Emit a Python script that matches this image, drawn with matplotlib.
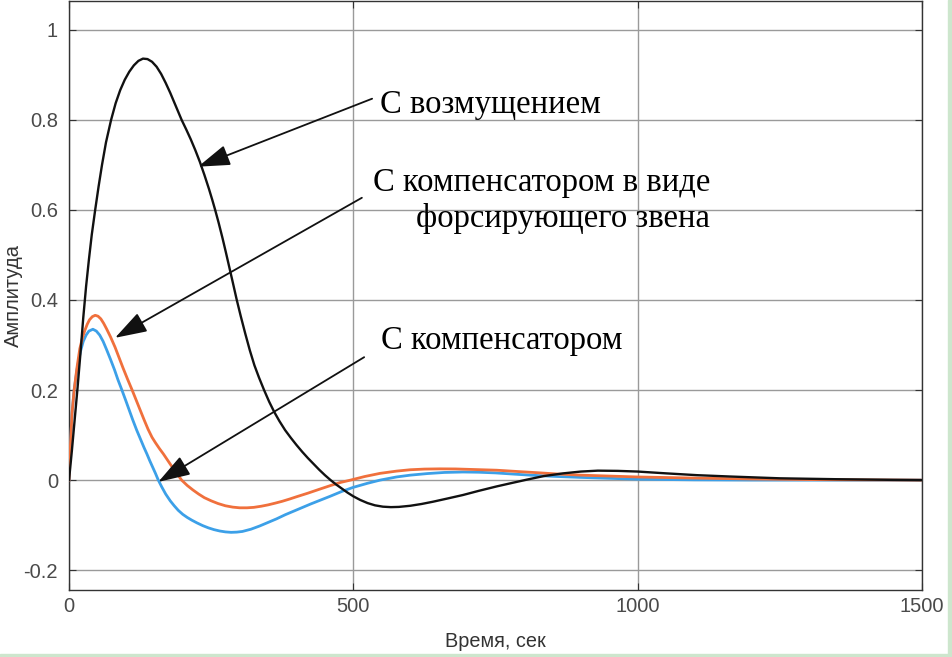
import numpy as np
from matplotlib import pyplot as plt
from matplotlib.patches import Rectangle

# time points (s) and amplitudes
t_dist = [0, 5, 10, 15, 20, 25, 30, 35, 40, 46, 52, 58, 65, 74, 82, 90, 98, 106, 114, 122,
          130, 138, 146, 154, 162, 170, 178, 186, 192, 198, 206, 214, 222, 230, 238, 246,
          252, 257, 263, 270, 276, 282, 288, 295, 302, 310, 318, 326, 334, 343, 352, 361,
          370, 380, 390, 400, 410, 420, 430, 440, 450, 460, 470, 480, 490, 500, 512, 525,
          538, 552, 566, 580, 600, 620, 640, 665, 693, 720, 752, 780, 805, 835, 869, 900,
          930, 965, 1000, 1050, 1104, 1162, 1250, 1350, 1450, 1500]
y_dist = [0, 0.065, 0.135, 0.205, 0.28, 0.36, 0.43, 0.49, 0.545, 0.6, 0.652, 0.70, 0.75,
          0.80, 0.837, 0.866, 0.889, 0.907, 0.921, 0.931, 0.936, 0.935, 0.929, 0.918,
          0.902, 0.882, 0.86, 0.836, 0.818, 0.8, 0.779, 0.757, 0.733, 0.707, 0.678, 0.647,
          0.622, 0.6, 0.572, 0.537, 0.505, 0.472, 0.439, 0.4, 0.364, 0.325, 0.288, 0.255,
          0.228, 0.2, 0.174, 0.151, 0.131, 0.111, 0.094, 0.078, 0.063, 0.049, 0.036, 0.023,
          0.011, 0.0, -0.01, -0.019, -0.028, -0.036, -0.044, -0.051, -0.056, -0.059, -0.06,
          -0.0595, -0.057, -0.053, -0.048, -0.041, -0.033, -0.024, -0.014, -0.006, 0.001,
          0.009, 0.015, 0.019, 0.021, 0.0205, 0.019, 0.015, 0.011, 0.008, 0.004, 0.002,
          0.0005, 0]

t_force = [0, 2.3, 5.3, 9, 14, 19, 24, 28, 32, 36, 41, 46, 51, 56, 61, 66, 73, 81, 88, 95,
           103, 111, 118, 125, 132, 139, 146, 152, 159, 166, 174, 182, 190, 198, 208, 218,
           228, 238, 250, 262, 275, 288, 300, 313, 325, 338, 350, 363, 375, 388, 400, 420,
           441, 460, 478, 495, 520, 547, 576, 600, 625, 652, 680, 700, 752, 790, 823, 860,
           900, 950, 1000, 1100, 1200, 1300, 1400, 1500]
y_force = [0, 0.074, 0.148, 0.2, 0.25, 0.292, 0.318, 0.333, 0.346, 0.356, 0.363, 0.366,
           0.364, 0.358, 0.348, 0.336, 0.318, 0.295, 0.272, 0.249, 0.224, 0.2, 0.178, 0.156,
           0.134, 0.113, 0.095, 0.083, 0.07, 0.058, 0.043, 0.028, 0.014, 0, -0.012, -0.022,
           -0.031, -0.039, -0.046, -0.052, -0.057, -0.06, -0.0615, -0.0615, -0.0605, -0.058,
           -0.055, -0.051, -0.047, -0.042, -0.037, -0.029, -0.02, -0.012, -0.005, 0, 0.008,
           0.015, 0.02, 0.023, 0.0245, 0.025, 0.0248, 0.024, 0.022, 0.019, 0.0165, 0.0135,
           0.011, 0.009, 0.007, 0.0045, 0.0025, 0.0012, 0.0005, 0]

t_comp = [0, 2.3, 5.3, 9, 14, 20, 25, 30, 35, 42, 48, 54, 60, 66, 73, 80, 86, 93, 100, 106,
          112, 119, 126, 132, 137, 142, 147, 152, 157, 163, 170, 178, 185, 192, 200, 208,
          216, 225, 235, 245, 255, 265, 275, 285, 295, 305, 320, 335, 350, 365, 380, 395,
          410, 425, 441, 459, 480, 500, 525, 547, 576, 600, 630, 660, 693, 720, 750, 780,
          811, 850, 900, 950, 1000, 1100, 1200, 1500]
y_comp = [0, 0.074, 0.148, 0.2, 0.245, 0.285, 0.308, 0.322, 0.331, 0.335, 0.331, 0.322,
          0.308, 0.29, 0.268, 0.245, 0.223, 0.2, 0.176, 0.155, 0.134, 0.111, 0.09, 0.072,
          0.058, 0.043, 0.029, 0.015, 0.0, -0.015, -0.031, -0.046, -0.057, -0.067, -0.076,
          -0.083, -0.089, -0.095, -0.101, -0.106, -0.11, -0.113, -0.115, -0.116, -0.1155,
          -0.114, -0.109, -0.102, -0.094, -0.086, -0.077, -0.069, -0.061, -0.053, -0.045,
          -0.036, -0.025, -0.016, -0.007, 0, 0.007, 0.011, 0.0145, 0.017, 0.018, 0.0175,
          0.016, 0.0135, 0.011, 0.0085, 0.006, 0.004, 0.002, 0.0006, 0.0001, 0]

x_ticks = [0, 500, 1000, 1500]
y_ticks = [-0.2, 0, 0.2, 0.4, 0.6, 0.8, 1]
y_tick_labels = ["-0.2", "0", "0.2", "0.4", "0.6", "0.8", "1"]

plt.rcParams["font.family"] = ["Liberation Sans", "DejaVu Sans"]

fig = plt.figure(figsize=(9.52, 6.57), dpi=100)
ax = fig.add_axes([0.0725, 0.102, 0.896, 0.8965])

ax.plot(t_comp, y_comp, color="#3ca0e8", lw=2.0, zorder=3)
ax.plot(t_force, y_force, color="#f0703c", lw=2.0, zorder=3)
ax.plot(t_dist, y_dist, color="#111111", lw=1.7, zorder=4)

ax.set_xlim(0, 1500)
ax.set_ylim(-0.244, 1.064)
ax.set_xticks(x_ticks)
ax.set_yticks(y_ticks)
ax.set_yticklabels(y_tick_labels)
ax.grid(True, color="#9a9a9a", lw=1.0)
ax.set_axisbelow(True)
ax.tick_params(direction="in", length=5, top=True, right=True, labelsize=14.5,
               labelcolor="#4a4a4a", color="#333333", pad=8)
ax.tick_params(axis="x", pad=5)
for s in ax.spines.values():
    s.set_color("#333333")
    s.set_linewidth(1.0)

ax.set_xlabel("Время, сек", fontsize=14.3, color="#333333")
ax.set_ylabel("Амплитуда", fontsize=14.5, color="#333333")
ax.xaxis.set_label_coords(0.5, -0.071)
ax.yaxis.set_label_coords(-0.054, 0.5)

serif = "Liberation Serif"
fs = 23.5
ax.text(547, 0.816, "С возмущением", family=serif, fontsize=fs, va="baseline")
ax.text(1127, 0.643, "С компенсатором в виде", family=serif, fontsize=fs,
        ha="right", va="baseline")
ax.text(1127, 0.563, "форсирующего звена", family=serif, fontsize=fs,
        ha="right", va="baseline")
ax.text(549, 0.291, "С компенсатором", family=serif, fontsize=fs, va="baseline")

arrow = dict(arrowstyle="-|>,head_length=1.1,head_width=0.36", mutation_scale=18,
             lw=1.3, color="#111111", shrinkA=0, shrinkB=0)
ax.annotate("", xy=(227, 0.696), xytext=(533, 0.847), arrowprops=arrow)
ax.annotate("", xy=(81, 0.316), xytext=(515, 0.627), arrowprops=arrow)
ax.annotate("", xy=(157, -0.004), xytext=(519, 0.273), arrowprops=arrow)

# light green border on bottom and right edges
fig.patches.append(Rectangle((0, 0), 1, 3 / 657, transform=fig.transFigure,
                             color="#cde6cd", zorder=0))
fig.patches.append(Rectangle((1 - 4 / 952, 0), 4 / 952, 1, transform=fig.transFigure,
                             color="#cde6cd", zorder=0))

fig.savefig("out.png", dpi=100)
